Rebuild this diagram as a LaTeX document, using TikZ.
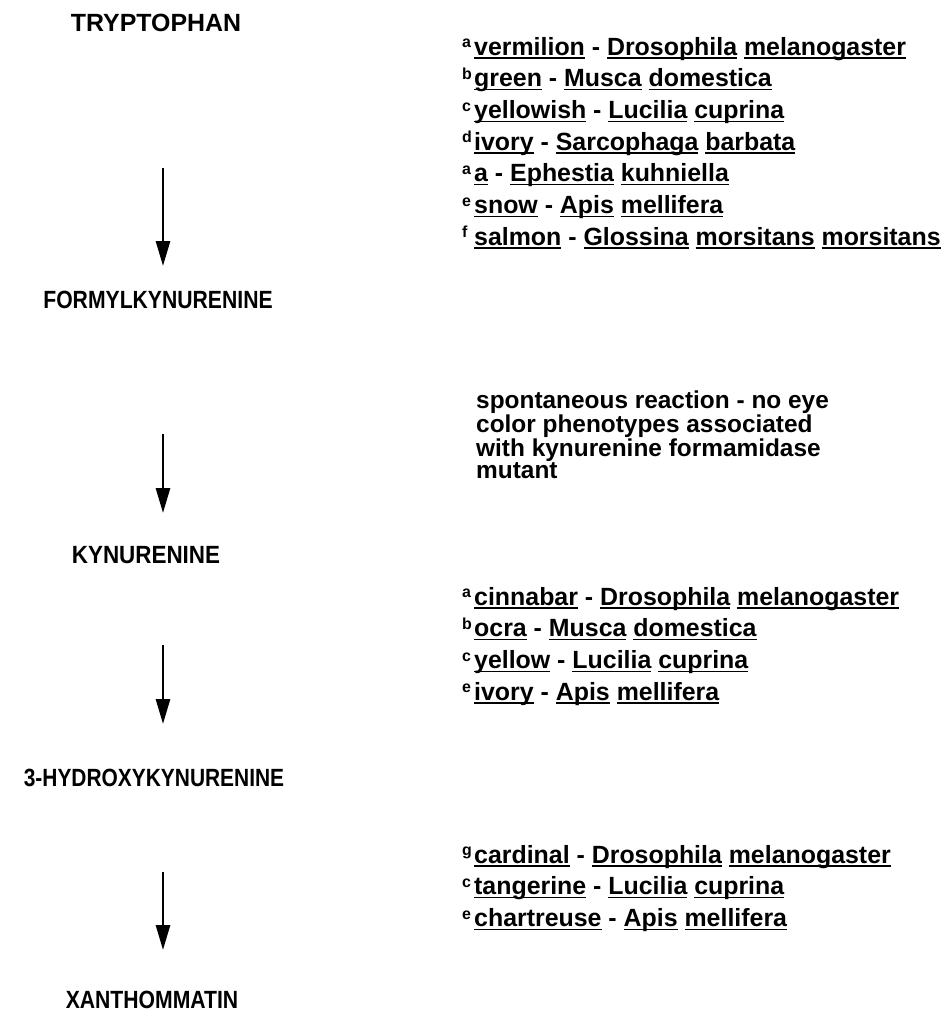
\documentclass[tikz,border=0pt]{standalone}
\usepackage{fontspec}
\setmainfont{Liberation Sans}
\usetikzlibrary{arrows.meta}
\newcommand\wul[1]{\setbox0\hbox{#1}\rlap{\rule[-3.4bp]{\wd0}{1.4bp}}\box0{}}
\newcommand\sprs[1]{\makebox[12bp][l]{\raisebox{7.5bp}{\fontsize{16}{16}\selectfont #1}}}
\begin{document}
\begin{tikzpicture}[x=1bp,y=-1bp,
  lab/.style={font=\fontsize{25}{25}\selectfont\bfseries, inner sep=0pt, anchor=base},
  lst/.style={font=\fontsize{25}{31.8}\selectfont\bfseries, inner sep=0pt, anchor=north west, align=left},
  par/.style={font=\fontsize{24.5}{22.3}\selectfont\bfseries, inner sep=0pt, anchor=north west, align=left},
  arr/.style={line width=2.8bp, -{Triangle[length=25bp,width=14bp]}}]
\useasboundingbox (0,0) rectangle (948,1024);
\node[lab] (trp) at (156,31) {TRYPTOPHAN};
\node[lab] (fk) at (158,308) {\scalebox{0.85}[1]{FORMYLKYNURENINE}};
\node[lab] (kyn) at (146,563) {\scalebox{0.9}[1]{KYNURENINE}};
\node[lab] (hk) at (154,786) {\scalebox{0.84}[1]{3-HYDROXYKYNURENINE}};
\node[lab] (xan) at (152,1008) {\scalebox{0.85}[1]{XANTHOMMATIN}};
\coordinate (a1s) at (163,168); \coordinate (a1e) at (163,266);
\coordinate (a2s) at (163,434); \coordinate (a2e) at (163,513);
\coordinate (a3s) at (163,645); \coordinate (a3e) at (163,724);
\coordinate (a4s) at (163,872); \coordinate (a4e) at (163,950);
\draw[arr] (a1s) -- (a1e);
\draw[arr] (a2s) -- (a2e);
\draw[arr] (a3s) -- (a3e);
\draw[arr] (a4s) -- (a4e);
\node[lst] (l1) at (462,37) {%
\sprs{a}\wul{vermilion} - \wul{Drosophila} \wul{melanogaster}\\
\sprs{b}\wul{green} - \wul{Musca} \wul{domestica}\\
\sprs{c}\wul{yellowish} - \wul{Lucilia} \wul{cuprina}\\
\sprs{d}\wul{ivory} - \wul{Sarcophaga} \wul{barbata}\\
\sprs{a}\wul{a} - \wul{Ephestia} \wul{kuhniella}\\
\sprs{e}\wul{snow} - \wul{Apis} \wul{mellifera}\\
\sprs{f}\wul{salmon} - \wul{Glossina} \wul{morsitans} \wul{morsitans}};
\node[par] (sp) at (476,391) {spontaneous reaction - no eye\\color phenotypes associated\\with kynurenine formamidase\\mutant};
\node[lst] (l2) at (462,587) {%
\sprs{a}\wul{cinnabar} - \wul{Drosophila} \wul{melanogaster}\\
\sprs{b}\wul{ocra} - \wul{Musca} \wul{domestica}\\
\sprs{c}\wul{yellow} - \wul{Lucilia} \wul{cuprina}\\
\sprs{e}\wul{ivory} - \wul{Apis} \wul{mellifera}};
\node[lst] (l3) at (462,845) {%
\sprs{g}\wul{cardinal} - \wul{Drosophila} \wul{melanogaster}\\
\sprs{c}\wul{tangerine} - \wul{Lucilia} \wul{cuprina}\\
\sprs{e}\wul{chartreuse} - \wul{Apis} \wul{mellifera}};
\end{tikzpicture}
\end{document}
